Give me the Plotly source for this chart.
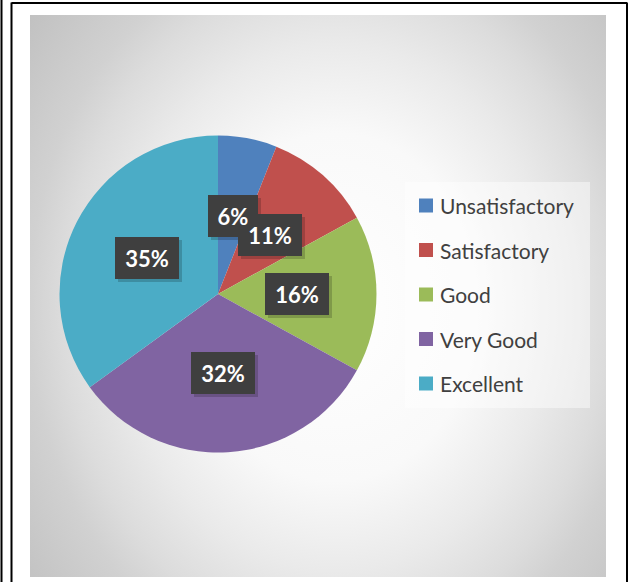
import base64
import math
import plotly.graph_objects as go

# ---- data ----
categories = ["Unsatisfactory", "Satisfactory", "Good", "Very Good", "Excellent"]
values = [6, 11, 16, 32, 35]
colors = ["#4F81BD", "#C0504D", "#9BBB59", "#8064A2", "#4BACC6"]
label_texts = [f"{v}%" for v in values]

W, H = 630, 582

def px(x):
    return x / W

def py(y):
    return 1 - y / H

# pie geometry (pixels)
CX, CY, R = 218, 294, 158.5

fig = go.Figure()
fig.add_trace(go.Pie(
    labels=categories,
    values=values,
    marker=dict(colors=colors, line=dict(width=0)),
    sort=False,
    direction="clockwise",
    rotation=0,
    textinfo="none",
    hoverinfo="label+percent",
    showlegend=False,
    domain=dict(x=[px(CX - R), px(CX + R)], y=[py(CY + R), py(CY - R)]),
))

# background radial gradient (SVG data URI)
stops = [(0.0, "#ffffff"), (0.33, "#f9f9f9"), (0.5, "#eaeaea"), (0.63, "#dcdcdc"),
         (0.71, "#d1d1d1"), (0.9, "#c1c1c1"), (1.0, "#bbbbbb")]
stop_xml = "".join(f"<stop offset='{o}' stop-color='{c}'/>" for o, c in stops)
svg = ("<svg xmlns='http://www.w3.org/2000/svg' width='576' height='562' viewBox='0 0 576 562' "
       "preserveAspectRatio='none'><defs><radialGradient id='g' cx='0.53' cy='0.52' r='0.75' "
       "gradientTransform='translate(0.53 0.52) scale(1 1.25) translate(-0.53 -0.52)'>"
       + stop_xml + "</radialGradient></defs><rect width='576' height='562' fill='url(#g)'/></svg>")
src = "data:image/svg+xml;base64," + base64.b64encode(svg.encode()).decode()

images = [dict(source=src, xref="paper", yref="paper", x=px(30), y=py(15),
               sizex=576 / W, sizey=562 / H, xanchor="left", yanchor="top",
               sizing="stretch", layer="below")]

shapes = []
# frame lines
line = dict(color="black", width=2)
shapes.append(dict(type="line", xref="paper", yref="paper", x0=px(1.5), x1=px(1.5), y0=0, y1=1, line=line))
shapes.append(dict(type="line", xref="paper", yref="paper", x0=px(11.5), x1=px(11.5), y0=0, y1=py(2.5), line=line))
shapes.append(dict(type="line", xref="paper", yref="paper", x0=px(11.5), x1=px(627), y0=py(3), y1=py(3), line=line))
shapes.append(dict(type="line", xref="paper", yref="paper", x0=px(627), x1=px(627), y0=0, y1=py(2.5), line=line))

# legend box
shapes.append(dict(type="rect", xref="paper", yref="paper", x0=px(405), x1=px(590),
                   y0=py(408), y1=py(182), fillcolor="rgba(255,255,255,0.45)", line=dict(width=0), layer="below"))

annotations = []
# legend entries
for i, (cat, col) in enumerate(zip(categories, colors)):
    yc = 205.5 + i * 44.5
    shapes.append(dict(type="rect", xref="paper", yref="paper", x0=px(419), x1=px(433),
                       y0=py(yc + 7), y1=py(yc - 7), fillcolor=col, line=dict(width=0)))
    annotations.append(dict(text=cat, xref="paper", yref="paper", x=px(438), y=py(yc),
                            xanchor="left", yanchor="middle", showarrow=False,
                            font=dict(family="Lato", size=21, color="#404040")))

# data labels in dark boxes, placed at half radius of each slice's mid-angle
total = sum(values)
label_specs = []
cum = 0
for v, t in zip(values, label_texts):
    mid = (cum + v / 2) / total * 2 * math.pi
    cum += v
    label_specs.append((t, CX + 0.5 * R * math.sin(mid), CY - 0.5 * R * math.cos(mid)))

def box_common(t, lx, ly):
    bw = 50 if len(t) == 2 else 64
    return dict(xref="paper", yref="paper", x=px(lx), y=py(ly),
                xanchor="center", yanchor="middle", showarrow=False,
                width=bw, height=42, borderpad=0, borderwidth=0, align="center", valign="middle")

# shadows, then boxes, then texts (texts always on top, as in the original)
for t, lx, ly in label_specs:
    annotations.append(dict(box_common(t, lx, ly), text=" ", bgcolor="rgba(0,0,0,0.18)",
                            xshift=3, yshift=-3, font=dict(family="Lato", size=22)))
for t, lx, ly in label_specs:
    annotations.append(dict(box_common(t, lx, ly), text=" ", bgcolor="#3f3f3f",
                            font=dict(family="Lato", size=22)))
for t, lx, ly in label_specs:
    annotations.append(dict(box_common(t, lx, ly), text=t, width=70,
                            font=dict(family="Lato", size=22, color="white", weight="bold")))

fig.update_layout(
    width=W, height=H,
    margin=dict(l=0, r=0, t=0, b=0),
    paper_bgcolor="white",
    plot_bgcolor="white",
    images=images,
    shapes=shapes,
    annotations=annotations,
    showlegend=False,
)

fig.write_html(
    "out.html",
    config={"displayModeBar": False},
    post_script="document.body.style.margin='0';document.body.style.overflow='hidden';",
)
